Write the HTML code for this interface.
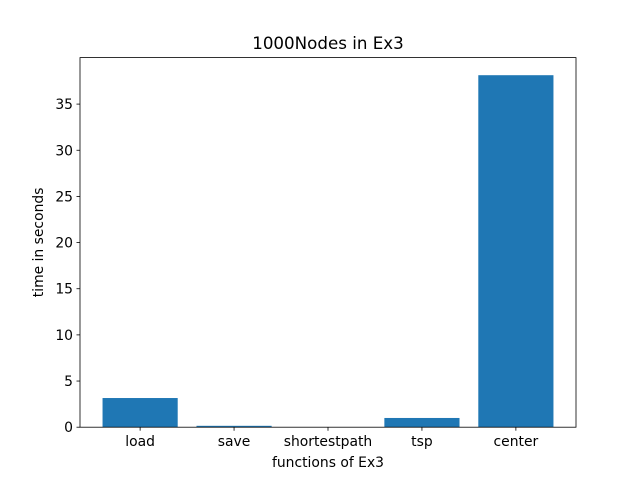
<!DOCTYPE html>
<html><head><meta charset="utf-8"><style>
body{margin:0;background:#fff}
svg text{font-family:"DejaVu Sans","Liberation Sans",sans-serif;fill:#000}
</style></head><body>
<svg id="chart" width="640" height="480" xmlns="http://www.w3.org/2000/svg">
<rect width="640" height="480" fill="#fff"/>
<text x="328" y="49" font-size="16.7" text-anchor="middle">1000Nodes in Ex3</text>
<g id="bars"></g>
<g id="axes"></g>
<text x="328" y="467" font-size="13.9" text-anchor="middle">functions of Ex3</text>
<text transform="translate(43,242.4) rotate(-90)" font-size="13.9" text-anchor="middle">time in seconds</text>
</svg>
<script>
const categories=["load","save","shortestpath","tsp","center"];
const values=[3.16,0.15,0.02,1.0,38.13];
const yTicks=[0,5,10,15,20,25,30,35];
const L=80,R=576,T=57.6,B=427.2;
const ymax=Math.max(...values)*1.05;
const xmin=-0.64,xmax=categories.length-1+0.64;
const xs=v=>L+(v-xmin)/(xmax-xmin)*(R-L);
const ys=v=>B-v/ymax*(B-T);
const NS="http://www.w3.org/2000/svg";
function mk(tag,attrs,parent){const e=document.createElementNS(NS,tag);for(const k in attrs)e.setAttribute(k,attrs[k]);parent.appendChild(e);return e;}
const bars=document.getElementById('bars'),axes=document.getElementById('axes');
values.forEach((v,i)=>{
 const r=mk('rect',{x:xs(i-0.4),y:ys(v),width:xs(i+0.4)-xs(i-0.4),height:B-ys(v),fill:'#1f77b4'},bars);
 
 
 mk('line',{x1:xs(i),x2:xs(i),y1:B,y2:B+3.5,stroke:'#000','stroke-width':0.8},axes);
 const t=mk('text',{x:xs(i),y:B+19,'font-size':13.9,'text-anchor':'middle'},axes);
 t.textContent=categories[i];
 
 
});
yTicks.forEach(v=>{
 mk('line',{x1:L-3.5,x2:L,y1:ys(v),y2:ys(v),stroke:'#000','stroke-width':0.8},axes);
 const t=mk('text',{x:L-7,y:ys(v)+5,'font-size':13.9,'text-anchor':'end'},axes);
 t.textContent=v;
 
 
});
const f=mk('rect',{x:L,y:T,width:R-L,height:B-T,fill:'none',stroke:'#000','stroke-width':0.8},axes);


</script>
</body></html>
